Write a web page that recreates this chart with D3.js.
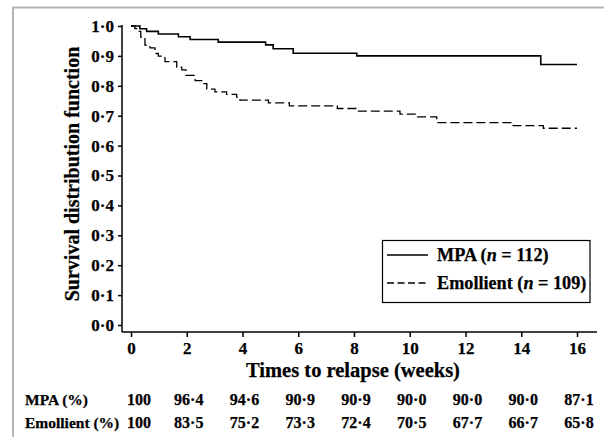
<!DOCTYPE html>
<html>
<head>
<meta charset="utf-8">
<script src="https://cdn.jsdelivr.net/npm/d3@7"></script>
<style>
  body { margin: 0; background: #fff; }
  svg { display: block; font-family: "Liberation Serif", "Times New Roman", serif; font-weight: bold; }
  svg text { stroke: #000; stroke-width: 0.25px; fill: #000; }
</style>
</head>
<body>
<div id="chart"></div>
<script>
// Chart size
const width = 604;
const height = 437;

// Kaplan-Meier steps: [weeks, survival]
const mpaSteps = [
  [0, 1], [0.32, 0.991], [0.56, 0.982], [0.98, 0.973], [1.7, 0.964],
  [2.12, 0.955], [3.13, 0.946], [4.83, 0.937], [5.1, 0.924], [5.82, 0.909],
  [8.1, 0.900], [14.7, 0.871], [16, 0.871]
];
const emollientSteps = [
  [0, 1], [0.14, 0.991], [0.26, 0.982], [0.35, 0.963], [0.5, 0.936],
  [0.68, 0.927], [0.86, 0.908], [0.98, 0.899], [1.22, 0.881], [1.64, 0.862],
  [1.82, 0.853], [1.97, 0.835], [2.3, 0.817], [2.59, 0.807], [2.72, 0.789],
  [3.01, 0.78], [3.43, 0.771], [3.79, 0.762], [3.91, 0.752], [4.93, 0.743],
  [5.68, 0.733], [7.4, 0.724], [8.1, 0.715], [9.65, 0.705], [10.28, 0.696],
  [10.97, 0.677], [13.71, 0.667], [14.79, 0.658], [16, 0.658]
];

// Ticks and the table under the axis
const xTicks = [0, 2, 4, 6, 8, 10, 12, 14, 16];
const yTicks = [0, 0.1, 0.2, 0.3, 0.4, 0.5, 0.6, 0.7, 0.8, 0.9, 1.0];
const mpaTable = ["100", "96·4", "94·6", "90·9", "90·9", "90·0", "90·0", "90·0", "87·1"];
const emollientTable = ["100", "83·5", "75·2", "73·3", "72·4", "70·5", "67·7", "66·7", "65·8"];

const svg = d3.select("#chart")
  .append("svg")
  .attr("width", width)
  .attr("height", height);

// Grey frame of the figure (top and left edge)
svg.append("path")
  .attr("d", "M13,437V7.5H604")
  .attr("fill", "none")
  .attr("stroke", "#b4b4b4")
  .attr("stroke-width", 2);

// Scales
const x = d3.scaleLinear().domain([0, 16]).range([131, 577]);
const y = d3.scaleLinear().domain([0, 1]).range([325, 26]);

const axisY = 332;
const axisX = 122;

// Y axis
const yAxis = svg.append("g")
  .attr("transform", `translate(${axisX},0)`)
  .call(d3.axisLeft(y).tickValues(yTicks).tickSize(4).tickSizeOuter(0)
    .tickFormat(d => d3.format(".1f")(d).replace(".", "·")));
yAxis.select(".domain").remove();
yAxis.selectAll(".tick line").attr("stroke", "#000").attr("stroke-width", 1.5);
yAxis.selectAll(".tick text")
  .attr("x", -8)
  .attr("font-family", "Liberation Serif, serif")
  .attr("font-weight", "bold")
  .attr("font-size", 17)
  .attr("fill", "#000");

svg.append("line")
  .attr("x1", axisX).attr("x2", axisX)
  .attr("y1", y(1) - 1).attr("y2", axisY)
  .attr("stroke", "#000").attr("stroke-width", 1.5);

// X axis
const xAxis = svg.append("g")
  .attr("transform", `translate(0,${axisY})`)
  .call(d3.axisBottom(x).tickValues(xTicks).tickSize(5).tickSizeOuter(0));
xAxis.select(".domain").remove();
xAxis.selectAll(".tick line").attr("stroke", "#000").attr("stroke-width", 1.5);
xAxis.selectAll(".tick text")
  .attr("y", 10)
  .attr("dy", "0.71em")
  .attr("font-family", "Liberation Serif, serif")
  .attr("font-weight", "bold")
  .attr("font-size", 17)
  .attr("fill", "#000");

svg.append("line")
  .attr("x1", axisX).attr("x2", 597)
  .attr("y1", axisY).attr("y2", axisY)
  .attr("stroke", "#000").attr("stroke-width", 1.5);

// Axis titles
svg.append("text")
  .attr("x", x(8) - 1)
  .attr("y", 376.5)
  .attr("text-anchor", "middle")
  .attr("font-size", 20.5)
  .text("Times to relapse (weeks)");

svg.append("text")
  .attr("transform", "translate(79,174) rotate(-90)")
  .attr("text-anchor", "middle")
  .attr("font-size", 20)
  .text("Survival distribution function");

// Survival curves
const line = d3.line()
  .x(d => x(d[0]))
  .y(d => y(d[1]))
  .curve(d3.curveStepAfter);

svg.append("path")
  .datum(mpaSteps)
  .attr("d", line)
  .attr("fill", "none")
  .attr("stroke", "#000")
  .attr("stroke-width", 1.6);

svg.append("path")
  .datum(emollientSteps)
  .attr("d", line)
  .attr("fill", "none")
  .attr("stroke", "#000")
  .attr("stroke-width", 1.3)
  .attr("stroke-dasharray", "9,4");

// Legend
const legend = svg.append("g");
legend.append("rect")
  .attr("x", 382.5).attr("y", 240.5)
  .attr("width", 207.5).attr("height", 62)
  .attr("fill", "#fff")
  .attr("stroke", "#000")
  .attr("stroke-width", 1.2);

const legendItems = [
  { name: "MPA", n: "112", dash: null, ly: 255 },
  { name: "Emollient", n: "109", dash: "7,3.5", ly: 283 }
];
legendItems.forEach(item => {
  legend.append("line")
    .attr("x1", 387).attr("x2", 428)
    .attr("y1", item.ly).attr("y2", item.ly)
    .attr("stroke", "#000")
    .attr("stroke-width", item.dash ? 1.3 : 1.6)
    .attr("stroke-dasharray", item.dash);
  const t = legend.append("text")
    .attr("x", 437)
    .attr("y", item.ly + 6)
    .attr("font-size", 18.2);
  t.append("tspan").text(item.name + " (");
  t.append("tspan").attr("font-style", "italic").text("n");
  t.append("tspan").text(" = " + item.n + ")");
});

// Table of survival percentages under the axis
const rows = [
  { label: "MPA (%)", values: mpaTable, yy: 405 },
  { label: "Emollient (%)", values: emollientTable, yy: 427.5 }
];
rows.forEach(row => {
  svg.append("text")
    .attr("x", 25)
    .attr("y", row.yy)
    .attr("font-size", 15.5)
    .text(row.label);
  svg.selectAll(null)
    .data(row.values)
    .join("text")
    .attr("x", (d, i) => x(xTicks[i]) + (i === 0 ? 8 : 2))
    .attr("y", row.yy)
    .attr("text-anchor", "middle")
    .attr("font-size", 16)
    .text(d => d);
});
</script>
</body>
</html>
